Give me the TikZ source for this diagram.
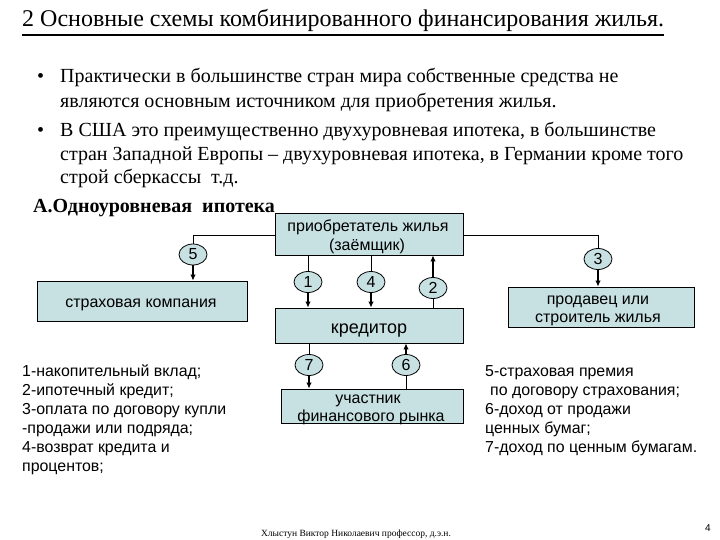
\documentclass[tikz,border=0pt]{standalone}
\usepackage{fontspec}
\setmainfont{Liberation Serif}
\newfontfamily\arial{Liberation Sans}
\usetikzlibrary{shapes.geometric,arrows.meta}
\definecolor{boxfill}{RGB}{199,224,226}
\tikzset{
  box/.style={draw=black, fill=boxfill, line width=0.8pt, inner sep=0pt},
  btxt/.style={anchor=base, inner sep=0pt, font=\arial\fontsize{16}{19}\selectfont},
  num/.style={draw=black, fill=boxfill, ellipse, line width=0.8pt, minimum width=28pt, minimum height=21pt, inner sep=0pt, font=\arial\fontsize{16}{16}\selectfont},
  conn/.style={line width=0.8pt},
  arr/.style={line width=1.1pt, -{Latex[length=6pt,width=5.5pt]}},
  txt/.style={anchor=base west, inner sep=0pt, font=\fontsize{20}{25}\selectfont},
  leg/.style={anchor=base west, inner sep=0pt, font=\arial\fontsize{15.9}{19}\selectfont}
}
\begin{document}
\begin{tikzpicture}[x=1pt,y=-1pt]
\useasboundingbox (0,0) rectangle (720,540);
% title
\node[anchor=base west, inner sep=0pt, font=\fontsize{24}{28}\selectfont] (title) at (22,27) {2 Основные схемы комбинированного финансирования жилья.};
\draw[line width=1.6pt] ([yshift=-8pt]title.base west) -- ([yshift=-8pt]title.base east);
% bullets
\node[txt] (b1) at (37,83) {•};
\node[txt] (t1) at (60,83) {Практически в большинстве стран мира собственные средства не};
\node[txt] (t2) at (60,108) {являются основным источником для приобретения жилья.};
\node[txt] (b2) at (37,137) {•};
\node[txt] (t3) at (60,137) {В США это преимущественно двухуровневая ипотека, в большинстве};
\node[txt] (t4) at (60,161) {стран Западной Европы – двухуровневая ипотека, в Германии кроме того};
\node[txt] (t5) at (60,184) {строй сберкассы\ \ т.д.};
\node[anchor=base west, inner sep=0pt, font=\bfseries\fontsize{20}{24}\selectfont] (sub) at (33,213) {А.Одноуровневая\ \ ипотека};
% boxes
\node[box, minimum width=188pt, minimum height=42pt] (buyer) at (369,234) {};
\node[box, minimum width=210pt, minimum height=40pt] (ins) at (142,301) {};
\node[box, minimum width=186pt, minimum height=40pt] (seller) at (601,307) {};
\node[box, minimum width=188pt, minimum height=35pt] (cred) at (369,325.5) {};
\node[box, minimum width=182pt, minimum height=34pt] (market) at (372,406) {};
% box texts
\node[btxt] (buyer1) at (368,232) {приобретатель жилья};
\node[btxt] (buyer2) at (367,251) {(заёмщик)};
\node[btxt] (ins1) at (141,307) {страховая компания};
\node[btxt] (seller1) at (598,304) {продавец или};
\node[btxt] (seller2) at (598,322) {строитель жилья};
\node[btxt, font=\arial\fontsize{18}{22}\selectfont] (cred1) at (369,333) {кредитор};
\node[btxt] (market1) at (368,403) {участник};
\node[btxt] (market2) at (371,421) {финансового рынка};
% number ellipses positions
\coordinate (p5) at (193,254.5);
\coordinate (p3) at (598,259);
\coordinate (p1) at (308,282);
\coordinate (p4) at (371,282);
\coordinate (p2) at (433,288);
\coordinate (p7) at (309,365);
\coordinate (p6) at (406,365);
% connectors
\draw[conn] (buyer.west |- 0,235) -| (p5);
\draw[arr] (p5) -- (p5 |- ins.north);
\draw[conn] (buyer.east |- 0,235) -| (p3);
\draw[arr] (p3) -- (p3 |- seller.north);
\draw[conn] (p1 |- buyer.south) -- (p1);
\draw[arr] (p1) -- (p1 |- cred.north);
\draw[conn] (p4 |- buyer.south) -- (p4);
\draw[arr] (p4) -- (p4 |- cred.north);
\draw[conn] (p2 |- cred.north) -- (p2);
\draw[arr] (p2) -- (p2 |- buyer.south);
\draw[conn] (p7 |- cred.south) -- (p7);
\draw[arr] (p7) -- (p7 |- market.north);
\draw[conn] (p6 |- market.north) -- (p6);
\draw[arr] (p6) -- (p6 |- cred.south);
% ellipses
\node[num] (n5) at (p5) {5};
\node[num] (n3) at (p3) {3};
\node[num] (n1) at (p1) {1};
\node[num] (n4) at (p4) {4};
\node[num] (n2) at (p2) {2};
\node[num] (n7) at (p7) {7};
\node[num] (n6) at (p6) {6};
% legends
\node[leg] (la) at (22,376) {1-накопительный вклад;};
\node[leg] (lb) at (22,395) {2-ипотечный кредит;};
\node[leg] (lc) at (22,414) {3-оплата по договору купли};
\node[leg] (ld) at (22,433) {-продажи или подряда;};
\node[leg] (le) at (22,452) {4-возврат кредита и};
\node[leg] (lf) at (22,471) {процентов;};
\node[leg] (ra) at (485,376) {5-страховая премия};
\node[leg] (rb) at (490,395) {по договору страхования;};
\node[leg] (rc) at (485,414) {6-доход от продажи};
\node[leg] (rd) at (485,433) {ценных бумаг;};
\node[leg] (re) at (485,452) {7-доход по ценным бумагам.};
% footer
\node[anchor=base, inner sep=0pt, font=\fontsize{9.5}{11}\selectfont] (foot) at (356,536) {Хлыстун Виктор Николаевич профессор, д.э.н.};
\node[anchor=base, inner sep=0pt, font=\arial\fontsize{10}{12}\selectfont] (page) at (708,531) {4};
\end{tikzpicture}
\end{document}
